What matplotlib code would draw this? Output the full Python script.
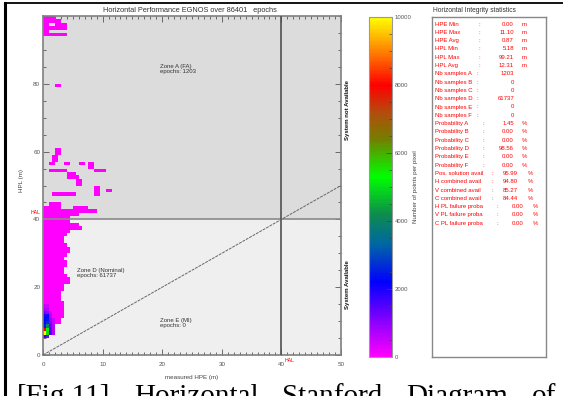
import matplotlib
matplotlib.use('Agg')
import matplotlib.pyplot as plt
import numpy as np
from matplotlib.colors import LinearSegmentedColormap
from matplotlib.ticker import MultipleLocator

plt.rcParams['font.family'] = ['Liberation Sans', 'DejaVu Sans']

W, H = 563, 396


def fx(x):
    return x / W


def fy(y):
    return 1 - y / H


# ---- data ----
# zone D block: right edge (m of HPE) of the occupied cells for each HPL row
dense_hpl = list(range(5, 44))
dense_edge = [1.0, 1.5, 2.0, 2.0, 3.0, 3.0, 3.5, 3.5, 3.5, 3.5,
              3.5, 3.0, 3.0, 3.0, 3.5, 3.5, 4.5, 4.5, 4.0, 3.5,
              3.5, 4.0, 4.0, 3.5, 4.0, 4.5, 4.5, 4.0, 3.5, 3.5,
              4.0, 4.5, 6.5, 6.0, 4.5, 4.5, 6.0, 9.0, 3.0]
dense_count = 30

# isolated 1 m cells (lower left corner)
sparse_hpe = [5, 6, 6.5, 1, 2,
              1.5, 2.5, 3.5, 4.5, 8.5, 8.5, 8.5, 10.5,
              5.5, 5.5, 4, 5, 4, 4.5,
              1, 2, 3, 8.5, 9.5,
              1, 3.5, 6, 7.5, 7.5, 1.5, 1.5, 2, 2,
              2,
              0, 1, 2, 3, 0, 0, 1, 2, 3, 0, 2, 3, 0, 1, 2, 0, 1]
sparse_hpl = [43, 43, 43, 44, 44,
              47, 47, 47, 47, 47, 48, 49, 48,
              50, 51, 52, 52, 53, 53,
              54, 54, 54, 54, 54,
              56, 56, 56, 56, 55, 57, 58, 59, 60,
              79,
              94, 94, 94, 94, 95, 96, 96, 96, 96, 97, 97, 97, 98, 98, 98, 99, 99]
sparse_count = 20

# the crowded cells near the origin (0.5 m wide)
hot_hpe = [0.0] * 10 + [0.5] * 10 + [1.0] * 7 + [1.5] * 5
hot_hpl = list(range(5, 15)) + list(range(5, 15)) + list(range(6, 13)) + list(range(6, 11))
hot_count = [1800, 10000, 8000, 2400, 2300, 2200, 2000, 1300, 800, 500,
             1200, 5600, 5200, 4000, 2700, 2400, 2100, 900, 600, 400,
             1500, 1400, 1300, 1100, 900, 700, 500,
             700, 600, 600, 500, 400]

x_ticks = [0, 10, 20, 30, 40, 50]
y_ticks = [0, 20, 40, 60, 80]
cb_ticks = [0, 2000, 4000, 6000, 8000, 10000]

stat_labels = ['HPE Min', 'HPE Max', 'HPE Avg', 'HPL Min', 'HPL Max', 'HPL Avg',
               'Nb samples A', 'Nb samples B', 'Nb samples C', 'Nb samples D',
               'Nb samples E', 'Nb samples F',
               'Probability A', 'Probability B', 'Probability C', 'Probability D',
               'Probability E', 'Probability F',
               'Pos. solution avail', 'H combined avail', 'V combined avail',
               'C combined avail',
               'H PL failure proba', 'V PL failure proba', 'C PL failure proba']
stat_values = ['0.00', '11.10', '0.87', '5.18', '99.21', '12.31',
               '1203', '0', '0', '61737', '0', '0',
               '1.45', '0.00', '0.00', '98.56', '0.00', '0.00',
               '95.99', '94.80', '85.27', '84.44',
               '0.00', '0.00', '0.00']
stat_units = ['m'] * 6 + [''] * 6 + ['%'] * 13

caption_words = ['[Fig.11]', 'Horizontal', 'Stanford', 'Diagram', 'of']

# ---- build the count grid (0.5 m in HPE, 1 m in HPL) ----
xe = np.arange(0, 50.5, 0.5)
ye = np.arange(0, 101, 1)
grid = np.zeros((len(ye) - 1, len(xe) - 1))
for r, e in zip(dense_hpl, dense_edge):
    grid[r, :int(e * 2)] = dense_count
for x, y in zip(sparse_hpe, sparse_hpl):
    i = int(x * 2)
    grid[y, i:i + 2] = sparse_count
for x, y, c in zip(hot_hpe, hot_hpl, hot_count):
    grid[y, int(x * 2)] = c
grid = np.ma.masked_equal(grid, 0)

cmap = LinearSegmentedColormap.from_list('idl', [
    (0.0, (1, 0, 1)), (0.1, (0.55, 0, 1)), (0.22, (0, 0, 1)),
    (0.33, (0, 0.4, 0.65)), (0.42, (0.05, 0.55, 0.3)), (0.53, (0, 1, 0)),
    (0.64, (0.45, 0.5, 0)), (0.72, (0.7, 0.3, 0.05)), (0.8, (1, 0, 0)),
    (0.9, (1, 0.5, 0)), (1.0, (1, 1, 0))])

fig = plt.figure(figsize=(5.63, 3.96), dpi=100)

ax = fig.add_axes([fx(43), fy(355), fx(341) - fx(43), (355 - 16) / H])
ax.axhspan(40, 100, color='#dcdcdc', zorder=0, lw=0)
ax.axhspan(0, 40, color='#efefef', zorder=0, lw=0)
mesh = ax.pcolormesh(xe, ye, grid, cmap=cmap, vmin=0, vmax=10000, zorder=2)
ax.axhline(40, color='#8a8a8a', lw=1.2, zorder=3)
ax.axvline(40, color='#505050', lw=1.2, zorder=3)
ax.plot([0, 50], [0, 50], color='#666666', lw=0.7, ls=(0, (3, 1)), zorder=3)
ax.set_xlim(0, 50)
ax.set_ylim(0, 100)
ax.set_xticks(x_ticks)
ax.set_yticks(y_ticks)
ax.xaxis.set_minor_locator(MultipleLocator(1))
ax.yaxis.set_minor_locator(MultipleLocator(5))
ax.tick_params(which='both', direction='in', top=True, right=True,
               color='#555555', width=0.6, labelsize=4.5, labelcolor='#555555')
ax.tick_params(which='major', length=4)
ax.tick_params(which='minor', length=2)
ax.tick_params(axis='x', pad=5)
ax.tick_params(axis='y', pad=2)
for s in ax.spines.values():
    s.set_color('#808080')
    s.set_linewidth(1.2)

ax.text(19.7, 84.4, 'Zone A (FA)\nepochs: 1203', fontsize=4.3, color='#333333',
        va='center', ha='left', linespacing=1.0, zorder=4)
ax.text(5.7, 24.1, 'Zone D (Nominal)\nepochs: 61737', fontsize=4.3, color='#333333',
        va='center', ha='left', linespacing=1.0, zorder=4)
ax.text(19.7, 9.4, 'Zone E (MI)\nepochs: 0', fontsize=4.3, color='#333333',
        va='center', ha='left', linespacing=1.0, zorder=4)

fig.text(fx(190), fy(10), 'Horizontal Performance EGNOS over 86401   epochs',
         fontsize=5.3, color='#333333', ha='center', va='center')
fig.text(fx(192), fy(378), 'measured HPE (m)', fontsize=4.5, color='#444444',
         ha='center', va='center')
fig.text(fx(21), fy(181), 'HPL (m)', fontsize=4.5, color='#444444',
         ha='center', va='center', rotation=90)
fig.text(fx(41), fy(212), 'HAL', fontsize=3.8, color='red', ha='right', va='center')
fig.text(fx(285), fy(361), 'HAL', fontsize=3.8, color='red', ha='left', va='center')
fig.text(fx(347), fy(110), 'System not Available', fontsize=4.3, fontweight='bold',
         rotation=90, ha='center', va='center', color='#111111')
fig.text(fx(347), fy(285), 'System Available', fontsize=4.3, fontweight='bold',
         rotation=90, ha='center', va='center', color='#111111')

# colour bar
cax = fig.add_axes([fx(369), fy(357), fx(392) - fx(369), (357 - 17) / H])
cb = fig.colorbar(mesh, cax=cax, ticks=cb_ticks)
cb.outline.set_edgecolor('#999999')
cb.outline.set_linewidth(0.8)
cax.yaxis.set_minor_locator(MultipleLocator(500))
cax.tick_params(which='both', direction='in', color='#444444', width=0.5,
                labelsize=4.3, labelcolor='#555555', pad=2)
cax.tick_params(which='major', length=4)
cax.tick_params(which='minor', length=2)
fig.text(fx(415), fy(187), 'Number of points per pixel', fontsize=4.5,
         color='#444444', rotation=90, ha='center', va='center')

# statistics box
sax = fig.add_axes([fx(432), fy(357), fx(546) - fx(432), (357 - 17) / H])
sax.set_xticks([])
sax.set_yticks([])
for s in sax.spines.values():
    s.set_color('#888888')
    s.set_linewidth(1.0)
fig.text(fx(433), fy(10), 'Horizontal Integrity statistics', fontsize=4.8,
         color='#333333', ha='left', va='center')

groups = [(6, 479, 514, 522), (6, 477, 514, 522), (6, 483, 514, 522),
          (4, 492, 518, 528), (3, 497, 523, 533)]
k = 0
for n, cx, vx, ux in groups:
    for _ in range(n):
        yy = 24 + k * 8.3
        fig.text(fx(435), fy(yy), stat_labels[k], fontsize=4.3, color='red',
                 ha='left', va='center')
        fig.text(fx(cx), fy(yy), ':', fontsize=4.3, color='red', ha='center', va='center')
        fig.text(fx(vx), fy(yy), stat_values[k], fontsize=4.3, color='red',
                 ha='right', va='center')
        if stat_units[k]:
            fig.text(fx(ux), fy(yy), stat_units[k], fontsize=4.3, color='red',
                     ha='left', va='center')
        k += 1

# document table frame and caption (justified line, cut by the page edge)
fig.add_artist(plt.Line2D([fx(5), fx(5)], [fy(3), 0], color='black', lw=2.2,
                          transform=fig.transFigure))
fig.add_artist(plt.Line2D([fx(5), 1], [fy(3), fy(3)], color='black', lw=1.3,
                          transform=fig.transFigure))
renderer = fig.canvas.get_renderer()
cap = [fig.text(0, fy(384), w, fontsize=21, family='Liberation Serif',
                ha='left', va='top', color='black') for w in caption_words]
widths = [t.get_window_extent(renderer).width for t in cap]
gap = (556 - 17 - sum(widths)) / (len(cap) - 1)
xpos = 17
for t, w in zip(cap, widths):
    t.set_x(fx(xpos))
    xpos += w + gap

fig.savefig('out.png', dpi=100)
